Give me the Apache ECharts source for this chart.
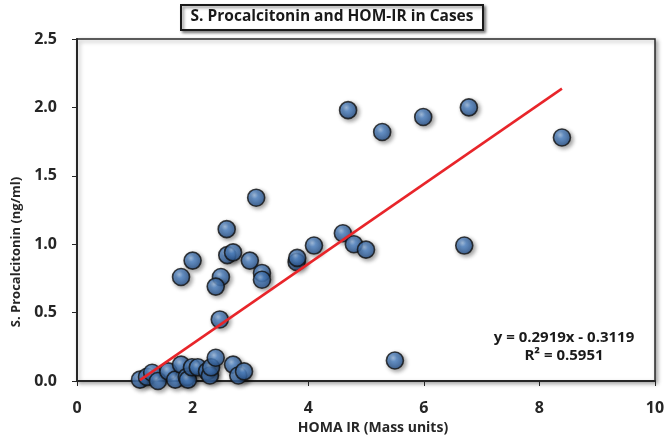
<!DOCTYPE html>
<html>
<head>
<meta charset="utf-8">
<script src="https://cdn.jsdelivr.net/npm/echarts@6/dist/echarts.min.js"></script>
<style>html,body{margin:0;padding:0;background:#fff}#c{width:664px;height:439px}</style>
</head>
<body>
<div id="c"></div>
<script>
// Data
const homaIR = [4.69, 6.78, 5.99, 5.28, 8.39, 3.10, 2.59, 4.60, 4.10, 4.79, 5.00, 6.70,
  2.00, 1.80, 2.60, 2.70, 2.99, 3.20, 3.20, 2.49, 2.40, 2.47, 3.80, 3.81, 5.50,
  1.09, 1.21, 1.30, 1.40, 1.58, 1.70, 1.80, 1.90, 1.92, 1.99, 2.09, 2.25, 2.30, 2.32, 2.40, 2.70, 2.79, 2.89];
const procalcitonin = [1.98, 2.00, 1.93, 1.82, 1.78, 1.34, 1.11, 1.08, 0.99, 1.00, 0.96, 0.99,
  0.88, 0.76, 0.92, 0.94, 0.88, 0.79, 0.74, 0.76, 0.69, 0.45, 0.87, 0.90, 0.15,
  0.01, 0.03, 0.06, 0.00, 0.07, 0.01, 0.12, 0.03, 0.01, 0.10, 0.10, 0.07, 0.04, 0.10, 0.17, 0.12, 0.04, 0.07];
const trendSlope = 0.2919;
const trendIntercept = -0.3119;
const trendRange = [1.09, 8.39];
const equationText = 'y = 0.2919x - 0.3119';
const r2Text = 'R² = 0.5951';
const xTicks = [0, 10, 2];
const yTicks = [0, 2.5, 0.5];

const points = homaIR.map((x, i) => [x, procalcitonin[i]]);
const trend = trendRange.map(x => [x, trendSlope * x + trendIntercept]);

const chart = echarts.init(document.getElementById('c'));
const font = '"Open Sans", "Liberation Sans", sans-serif';
chart.setOption({
  animation: false,
  backgroundColor: '#fff',
  title: {
    text: 'S. Procalcitonin and HOM-IR in Cases',
    left: 'center', top: 5,
    padding: [4, 10, 5, 10],
    borderWidth: 2, borderColor: '#1a1a1a',
    backgroundColor: '#fff',
    shadowColor: 'rgba(0,0,0,0.45)', shadowBlur: 3, shadowOffsetX: 2, shadowOffsetY: 2,
    textStyle: { fontFamily: font, fontSize: 15.5, fontWeight: 'bold', color: '#1a1a1a' }
  },
  grid: { left: 77, top: 39, right: 9, bottom: 58, show: true, borderColor: '#2a2a2a', borderWidth: 1.5,
    outerBoundsMode: 'none', containLabel: false,
    shadowColor: 'rgba(0,0,0,0.35)', shadowBlur: 4, shadowOffsetX: 2, shadowOffsetY: 2, backgroundColor: '#fff' },
  xAxis: {
    type: 'value', min: xTicks[0], max: xTicks[1], interval: xTicks[2],
    name: 'HOMA IR (Mass units)', nameLocation: 'middle', nameGap: 38,
    nameTextStyle: { fontFamily: font, fontSize: 14, fontWeight: 'bold', color: '#262626', padding: [0, 0, 0, 14] },
    axisLine: { lineStyle: { color: '#262626', width: 2 } },
    axisTick: { show: true, length: 5, lineStyle: { color: '#262626' } },
    axisLabel: { fontFamily: font, fontSize: 16, fontWeight: 'bold', color: '#262626', margin: 19 },
    splitLine: { show: false }
  },
  yAxis: {
    type: 'value', min: yTicks[0], max: yTicks[1], interval: yTicks[2],
    name: 'S. Procalcitonin (ng/ml)', nameLocation: 'middle', nameGap: 54, nameRotate: 90,
    nameTextStyle: { fontFamily: font, fontSize: 13, fontWeight: 'bold', color: '#262626', padding: [0, 84, 0, 0] },
    axisLine: { show: true, lineStyle: { color: '#262626', width: 2 } },
    axisTick: { show: true, length: 5, lineStyle: { color: '#262626' } },
    axisLabel: { fontFamily: font, fontSize: 16, fontWeight: 'bold', color: '#262626', margin: 20,
      formatter: v => v.toFixed(1) },
    splitLine: { show: false }
  },
  series: [
    {
      type: 'scatter', data: points, symbolSize: 17, z: 3,
      itemStyle: {
        color: new echarts.graphic.RadialGradient(0.4, 0.36, 0.68, [
          { offset: 0, color: '#a6c8f0' },
          { offset: 0.3, color: '#5389cb' },
          { offset: 1, color: '#224c85' }
        ]),
        borderColor: '#111', borderWidth: 1.6,
        shadowColor: 'rgba(0,0,0,0.45)', shadowBlur: 4, shadowOffsetX: 2, shadowOffsetY: 2
      }
    },
    {
      type: 'line', data: trend, symbol: 'none', z: 4,
      lineStyle: { color: '#e8252a', width: 2.5 }
    }
  ],
  graphic: [
    { type: 'text', x: 564, y: 330, style: { text: equationText, font: 'bold 15px ' + font, fill: '#1a1a1a', textAlign: 'center', textVerticalAlign: 'top' } },
    { type: 'text', x: 564, y: 348, style: { text: r2Text, font: 'bold 15px ' + font, fill: '#1a1a1a', textAlign: 'center', textVerticalAlign: 'top' } }
  ]
});
</script>
</body>
</html>
